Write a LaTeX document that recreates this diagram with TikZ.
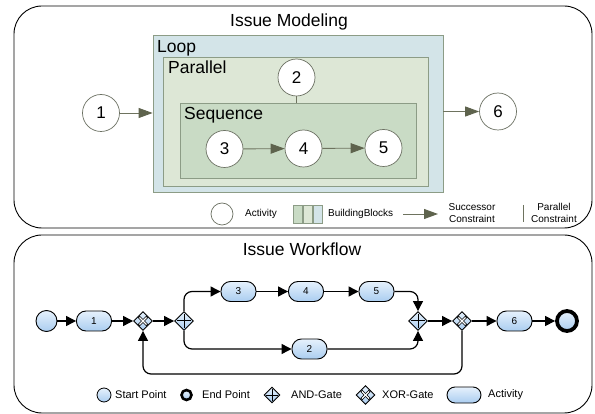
\documentclass[tikz,border=0pt]{standalone}
\usepackage{fontspec}
\setmainfont{Liberation Sans}
\usetikzlibrary{arrows.meta,shapes.geometric}
\definecolor{loopc}{HTML}{D3E4E8}
\definecolor{parc}{HTML}{DDE7D6}
\definecolor{seqc}{HTML}{C9DBC5}
\definecolor{boxedge}{HTML}{8C9C86}
\definecolor{olivehead}{HTML}{5E634D}
\definecolor{oliveline}{HTML}{6E735F}
\definecolor{actedge}{HTML}{6B7062}
\definecolor{pillt}{HTML}{E6F1FC}
\definecolor{pillb}{HTML}{AACDF0}
\begin{document}
\begin{tikzpicture}[x=1pt,y=-1pt,
  panel/.style={draw=black,line width=0.9pt,rounded corners=28pt},
  ptitle/.style={anchor=base,inner sep=0pt,font=\fontsize{17.5}{18}\selectfont},
  bblock/.style={draw=boxedge,line width=0.8pt,inner sep=0pt},
  blabel/.style={anchor=base west,inner sep=0pt,font=\fontsize{17.5}{18}\selectfont},
  actc/.style={circle,draw=actedge,line width=0.7pt,fill=white,minimum size=37pt,inner sep=0pt,font=\fontsize{17}{17}\selectfont},
  sarr/.style={draw=oliveline,line width=0.9pt,-{Triangle[length=14pt,width=10pt,color=olivehead]}},
  small/.style={inner sep=0pt,font=\fontsize{10}{12}\selectfont},
  legtxt/.style={anchor=west,inner sep=0pt,font=\fontsize{11}{12}\selectfont},
  bshade/.style={top color=pillt,bottom color=pillb},
  wact/.style={rectangle,rounded corners=9.5pt,draw=black,line width=0.9pt,bshade,minimum width=35pt,minimum height=20pt,inner sep=0pt,font=\fontsize{10}{10}\selectfont},
  gate/.style={diamond,draw=black,line width=0.9pt,bshade,minimum width=19pt,minimum height=19pt,inner sep=0pt},
  warr/.style={draw=black,line width=1.2pt,-{Triangle[length=10pt,width=10pt]}},
  xblack/.style={draw=black,line width=2.6pt},
  xwhite/.style={draw=white,line width=1.1pt},
  plusl/.style={draw=black,line width=1pt},
]
\useasboundingbox (0,0) rectangle (595,414);
% ---------- Issue Modeling ----------
\draw[panel] (14,6) rectangle (592,228);
\node[ptitle] (t1) at (289,27) {Issue Modeling};
\node[bblock,fill=loopc,minimum width=290pt,minimum height=157pt] (loop) at (298,113.5) {};
\node[bblock,fill=parc,minimum width=265pt,minimum height=129pt] (par) at (295.5,121.5) {};
\node[bblock,fill=seqc,minimum width=236pt,minimum height=75pt] (seq) at (298,140.5) {};
\node[blabel] (lloop) at (157,53) {Loop};
\node[blabel] (lpar) at (168,74) {Parallel};
\node[blabel] (lseq) at (184,120) {Sequence};
\node[actc] (c1) at (101,113) {1};
\node[actc] (c2) at (296.5,77.5) {2};
\node[actc] (c3) at (224.5,149) {3};
\node[actc] (c4) at (303.5,148.5) {4};
\node[actc] (c5) at (383.5,148) {5};
\node[actc] (c6) at (498,111.5) {6};
\draw[sarr] (c1.east) -- (c1.east -| loop.west);
\draw[sarr] (loop.east |- c6) -- (c6.west);
\draw[sarr] (c3) -- (c4);
\draw[sarr] (c4) -- (c5);
\draw[draw=oliveline,line width=0.8pt] (c2.south) -- (c2.south |- seq.north);
% legend
\node[circle,draw=actedge,line width=0.7pt,fill=white,minimum size=22pt,inner sep=0pt] (lgc) at (222,214) {};
\node[small,anchor=west] (lgct) at (245,214) {Activity};
\node[bblock,fill=seqc,minimum width=8.5pt,minimum height=18pt] (lgb1) at (298,214) {};
\node[bblock,fill=parc,minimum width=8.5pt,minimum height=18pt] (lgb2) at (308,214) {};
\node[bblock,fill=loopc,minimum width=8.5pt,minimum height=18pt] (lgb3) at (318,214) {};
\node[small,anchor=west] (lgbt) at (328,214) {BuildingBlocks};
\coordinate (lga1) at (403,214);
\coordinate (lga2) at (438,214);
\draw[sarr] (lga1) -- (lga2);
\node[small,align=center] (lgat) at (472,213) {Successor\\Constraint};
\coordinate (lgp1) at (523,205);
\coordinate (lgp2) at (523,222);
\draw[draw=oliveline,line width=0.7pt] (lgp1) -- (lgp2);
\node[small,align=center] (lgpt) at (554,213) {Parallel\\Constraint};
% ---------- Issue Workflow ----------
\draw[panel] (14,235) rectangle (592,413);
\node[ptitle] (t2) at (302,256) {Issue Workflow};
\node[circle,draw=black,line width=0.9pt,bshade,minimum size=21pt,inner sep=0pt] (s) at (46.5,321) {};
\node[wact] (w1) at (94,321) {1};
\node[gate] (x1) at (143,321) {};
\node[gate] (a1) at (184,321) {};
\node[wact] (w3) at (238.5,291.5) {3};
\node[wact] (w4) at (306,291.5) {4};
\node[wact] (w5) at (376.5,291.5) {5};
\node[wact] (w2) at (309.5,349) {2};
\node[gate] (a2) at (418,321) {};
\node[gate] (x2) at (462,321) {};
\node[wact] (w6) at (514.5,321) {6};
\node[circle,draw=black,line width=3.8pt,bshade,minimum size=20pt,inner sep=0pt] (e) at (567,321) {};
% gate symbols
\foreach \g in {a1,a2}{
  \draw[plusl] ([yshift=-7pt]\g.center) -- ([yshift=7pt]\g.center);
  \draw[plusl] ([xshift=-7pt]\g.center) -- ([xshift=7pt]\g.center);
}
\foreach \g in {x1,x2}{
  \draw[xblack] ([shift={(-4.2,-4.2)}]\g.center) -- ([shift={(4.2,4.2)}]\g.center);
  \draw[xblack] ([shift={(-4.2,4.2)}]\g.center) -- ([shift={(4.2,-4.2)}]\g.center);
  \draw[xwhite] ([shift={(-3.6,-3.6)}]\g.center) -- ([shift={(3.6,3.6)}]\g.center);
  \draw[xwhite] ([shift={(-3.6,3.6)}]\g.center) -- ([shift={(3.6,-3.6)}]\g.center);
}
% connectors
\draw[warr] (s) -- (w1);
\draw[warr] (w1) -- (x1);
\draw[warr] (x1) -- (a1);
\draw[warr,rounded corners=8pt] (a1.north) |- (w3.west);
\draw[warr,rounded corners=8pt] (a1.south) |- (w2.west);
\draw[warr] (w3) -- (w4);
\draw[warr] (w4) -- (w5);
\draw[warr,rounded corners=8pt] (w5.east) -| (a2.north);
\draw[warr,rounded corners=8pt] (w2.east) -| (a2.south);
\draw[warr] (a2) -- (x2);
\draw[warr] (x2) -- (w6);
\draw[warr] (w6) -- (e);
\coordinate (back) at (300,374);
\draw[warr,rounded corners=8pt] (x2.south) -- (x2.south |- back) -| (x1.south);
% legend
\node[circle,draw=black,line width=0.8pt,bshade,minimum size=14pt,inner sep=0pt] (ls) at (104,395) {};
\node[legtxt] (lst) at (115,395) {Start Point};
\node[circle,draw=black,line width=2.6pt,bshade,minimum size=10pt,inner sep=0pt] (le) at (186.5,395) {};
\node[legtxt] (let) at (202,395) {End Point};
\node[gate,minimum width=16pt,minimum height=16pt] (la) at (272,395) {};
\draw[line width=0.9pt] ([yshift=-6pt]la.center) -- ([yshift=6pt]la.center);
\draw[line width=0.9pt] ([xshift=-6pt]la.center) -- ([xshift=6pt]la.center);
\node[legtxt] (lat) at (291,395) {AND-Gate};
\node[gate,minimum width=19pt,minimum height=19pt] (lx) at (365.5,395) {};
\draw[xblack] ([shift={(-4.2,-4.2)}]lx.center) -- ([shift={(4.2,4.2)}]lx.center);
\draw[xblack] ([shift={(-4.2,4.2)}]lx.center) -- ([shift={(4.2,-4.2)}]lx.center);
\draw[xwhite] ([shift={(-3.6,-3.6)}]lx.center) -- ([shift={(3.6,3.6)}]lx.center);
\draw[xwhite] ([shift={(-3.6,3.6)}]lx.center) -- ([shift={(3.6,-3.6)}]lx.center);
\node[legtxt] (lxt) at (382,395) {XOR-Gate};
\node[wact,minimum width=34pt,minimum height=16pt,rounded corners=8pt] (lw) at (464,395) {};
\node[legtxt] (lwt) at (488,395) {Activity};
\end{tikzpicture}
\end{document}
